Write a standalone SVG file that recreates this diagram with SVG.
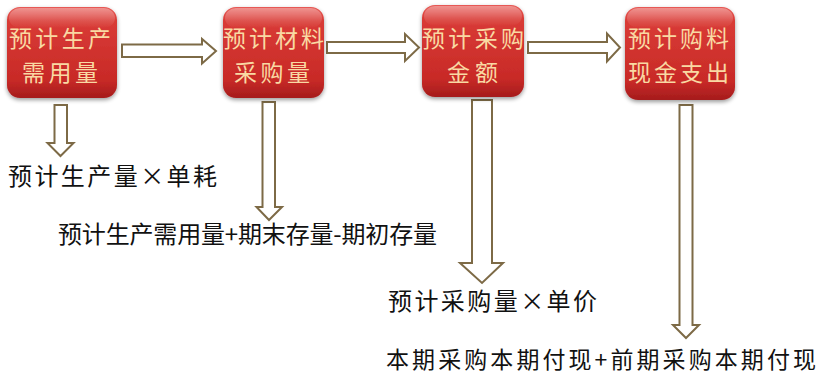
<svg xmlns="http://www.w3.org/2000/svg" width="820" height="376" viewBox="0 0 820 376">
<defs>
<linearGradient id="red" x1="0" y1="0" x2="0" y2="1">
<stop offset="0" stop-color="#e75a55"/>
<stop offset="0.15" stop-color="#d93b36"/>
<stop offset="0.8" stop-color="#c82a27"/>
<stop offset="1" stop-color="#a51c1c"/>
</linearGradient>
<linearGradient id="gloss" x1="0" y1="0" x2="0" y2="1">
<stop offset="0" stop-color="#ffffff" stop-opacity="0.35"/>
<stop offset="1" stop-color="#ffffff" stop-opacity="0"/>
</linearGradient>
<filter id="sh" x="-20%" y="-20%" width="140%" height="140%">
<feGaussianBlur in="SourceAlpha" stdDeviation="2"/>
<feOffset dx="0" dy="2"/>
<feComponentTransfer><feFuncA type="linear" slope="0.4"/></feComponentTransfer>
<feMerge><feMergeNode/><feMergeNode in="SourceGraphic"/></feMerge>
</filter>
</defs>
<style>
.box{fill:url(#red);filter:url(#sh)}
.gl{fill:url(#gloss)}
.bt{font-family:"Noto Sans CJK SC","Noto Sans CJK JP",sans-serif;font-size:23px;fill:#f9d9a3}
.lt{font-family:"Noto Sans CJK SC","Noto Sans CJK JP",sans-serif;font-size:24px;fill:#111}
.ar{fill:#ffffff;stroke:#7d6a46;stroke-width:2;stroke-linejoin:miter}
</style>
<rect width="820" height="376" fill="#ffffff"/>

<g id="connectors">
<polygon class="ar" points="122,44.5 202,44.5 202,39 216,51 202,63.5 202,57 122,57"/>
<polygon class="ar" points="327,42 405,42 405,34 419,47.5 405,61 405,53 327,53"/>
<polygon class="ar" points="528,42 607,42 607,33.5 620,47.5 607,61.5 607,53 528,53"/>
<polygon class="ar" points="54.5,105 67,105 67,143 73.5,143 60.5,156 47.5,143 54.5,143"/>
<polygon class="ar" points="262.5,102 275,102 275,207 282,207 269,220 256.5,207 262.5,207"/>
<polygon class="ar" points="472,100 492,100 492,263 503,263 482,283 460,263 472,263"/>
<polygon class="ar" points="679.5,105 692.5,105 692.5,325 699,325 686,338 673,325 679.5,325"/>
</g>

<g id="n1">
<rect class="box" x="7" y="7" width="110" height="91" rx="13"/>
<rect class="gl" x="9" y="8" width="106" height="20" rx="11"/>
<text class="bt" x="9" y="47" textLength="102" lengthAdjust="spacing">预计生产</text>
<text class="bt" x="22" y="81" textLength="76" lengthAdjust="spacing">需用量</text>
</g>
<g id="n2">
<rect class="box" x="223" y="7" width="101" height="91" rx="13"/>
<rect class="gl" x="225" y="8" width="97" height="20" rx="11"/>
<text class="bt" x="223" y="47" textLength="101" lengthAdjust="spacing">预计材料</text>
<text class="bt" x="234" y="81" textLength="76" lengthAdjust="spacing">采购量</text>
</g>
<g id="n3">
<rect class="box" x="422" y="5" width="102" height="92" rx="13"/>
<rect class="gl" x="424" y="6" width="98" height="20" rx="11"/>
<text class="bt" x="422" y="47" textLength="102" lengthAdjust="spacing">预计采购</text>
<text class="bt" x="447" y="81" textLength="51" lengthAdjust="spacing">金额</text>
</g>
<g id="n4">
<rect class="box" x="625" y="7" width="110" height="93" rx="13"/>
<rect class="gl" x="627" y="8" width="106" height="20" rx="11"/>
<text class="bt" x="628" y="47" textLength="101" lengthAdjust="spacing">预计购料</text>
<text class="bt" x="628" y="81" textLength="101" lengthAdjust="spacing">现金支出</text>
</g>

<g id="labels">
<text class="lt" x="8" y="185" textLength="209" lengthAdjust="spacing">预计生产量×单耗</text>
<text class="lt" x="58" y="243" textLength="379" lengthAdjust="spacing">预计生产需用量+期末存量-期初存量</text>
<text class="lt" x="388" y="310" textLength="209" lengthAdjust="spacing">预计采购量×单价</text>
<text class="lt" x="386" y="368" textLength="430" lengthAdjust="spacing" style="font-size:23px">本期采购本期付现+前期采购本期付现</text>
</g>
</svg>
